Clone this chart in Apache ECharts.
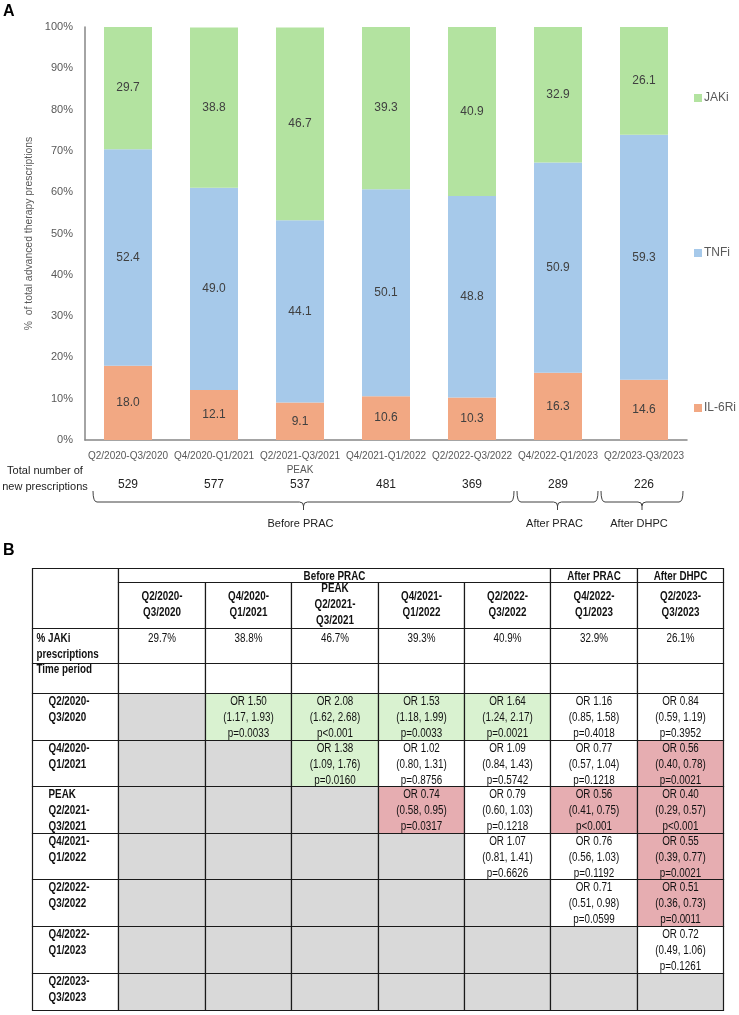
<!DOCTYPE html>
<html><head><meta charset="utf-8">
<script src="https://cdn.jsdelivr.net/npm/echarts@6/dist/echarts.min.js"></script>
<style>html,body{margin:0;padding:0;background:#fff}#c{width:739px;height:1015px}</style>
</head><body><div id="c"></div>
<script>
// ---------- DATA ----------
const categories = ['Q2/2020-Q3/2020','Q4/2020-Q1/2021','Q2/2021-Q3/2021\nPEAK','Q4/2021-Q1/2022','Q2/2022-Q3/2022','Q4/2022-Q1/2023','Q2/2023-Q3/2023'];
const il6ri = [18.0, 12.1, 9.1, 10.6, 10.3, 16.3, 14.6];
const tnfi  = [52.4, 49.0, 44.1, 50.1, 48.8, 50.9, 59.3];
const jaki  = [29.7, 38.8, 46.7, 39.3, 40.9, 32.9, 26.1];
const totals = [529, 577, 537, 481, 369, 289, 226];
const periodGroups = [
  {name: 'Before PRAC', from: 0, to: 4},
  {name: 'After PRAC', from: 5, to: 5},
  {name: 'After DHPC', from: 6, to: 6}
];
const tablePeriods = ['Q2/2020-\nQ3/2020','Q4/2020-\nQ1/2021','PEAK\nQ2/2021-\nQ3/2021','Q4/2021-\nQ1/2022','Q2/2022-\nQ3/2022','Q4/2022-\nQ1/2023','Q2/2023-\nQ3/2023'];
const orEst = [
  [null,1.50,2.08,1.53,1.64,1.16,0.84],
  [null,null,1.38,1.02,1.09,0.77,0.56],
  [null,null,null,0.74,0.79,0.56,0.40],
  [null,null,null,null,1.07,0.76,0.55],
  [null,null,null,null,null,0.71,0.51],
  [null,null,null,null,null,null,0.72],
  [null,null,null,null,null,null,null]
];
const ciLow = [
  [null,1.17,1.62,1.18,1.24,0.85,0.59],
  [null,null,1.09,0.80,0.84,0.57,0.40],
  [null,null,null,0.58,0.60,0.41,0.29],
  [null,null,null,null,0.81,0.56,0.39],
  [null,null,null,null,null,0.51,0.36],
  [null,null,null,null,null,null,0.49],
  [null,null,null,null,null,null,null]
];
const ciHigh = [
  [null,1.93,2.68,1.99,2.17,1.58,1.19],
  [null,null,1.76,1.31,1.43,1.04,0.78],
  [null,null,null,0.95,1.03,0.75,0.57],
  [null,null,null,null,1.41,1.03,0.77],
  [null,null,null,null,null,0.98,0.73],
  [null,null,null,null,null,null,1.06],
  [null,null,null,null,null,null,null]
];
const pVals = [
  [null,'0.0033','<0.001','0.0033','0.0021','0.4018','0.3952'],
  [null,null,'0.0160','0.8756','0.5742','0.1218','0.0021'],
  [null,null,null,'0.0317','0.1218','<0.001','<0.001'],
  [null,null,null,null,'0.6626','0.1192','0.0021'],
  [null,null,null,null,null,'0.0599','0.0011'],
  [null,null,null,null,null,null,'0.1261'],
  [null,null,null,null,null,null,null]
];

// ---------- LAYOUT / STYLE ----------
const REG = "'Liberation Sans',Arial,sans-serif";
const NARROW_SCALE = 0.82;
const C_GREEN = '#b3e3a0', C_BLUE = '#a6c9ea', C_ORANGE = '#f2a883';
const CELL_GREEN = '#d9f2d0', CELL_RED = '#e6adb1', CELL_GRAY = '#d9d9d9';
const rowEdges = [0,14,60,95,125,172,218,265,311,358,405,442];
const braceInsets = [[8,1],[2,3],[0,4]];

// ---------- TABLE CELLS ----------
const cells = [];
function addCell(c0, c1, r0, r1, text, o) {
  cells.push(Object.assign({c0, c1, r0: rowEdges[r0], r1: rowEdges[r1], text, fill: '#fff', bold: false, align: 'center', valign: 'top', pad: 0, indent: 4}, o || {}));
}
addCell(0, 1, 0, 2, '');
periodGroups.forEach(g => addCell(1 + g.from, 2 + g.to, 0, 1, g.name, {bold: true, valign: 'middle', pad: 1}));
tablePeriods.forEach((t, j) => addCell(1 + j, 2 + j, 1, 2, t, {bold: true, valign: 'middle', pad: -1}));
addCell(0, 1, 2, 3, '% JAKi\nprescriptions', {bold: true, align: 'left', pad: 2});
jaki.forEach((v, j) => addCell(1 + j, 2 + j, 2, 3, v.toFixed(1) + '%', {pad: 2}));
addCell(0, 1, 3, 4, 'Time period', {bold: true, align: 'left', pad: -2});
jaki.forEach((v, j) => addCell(1 + j, 2 + j, 3, 4, ''));
tablePeriods.forEach((t, i) => {
  addCell(0, 1, 4 + i, 5 + i, t, {bold: true, align: 'left', indent: 16});
  for (let j = 0; j < tablePeriods.length; j++) {
    if (orEst[i][j] == null) { addCell(1 + j, 2 + j, 4 + i, 5 + i, '', {fill: CELL_GRAY}); continue; }
    const p = pVals[i][j];
    const sig = p.charAt(0) === '<' || parseFloat(p) < 0.05;
    const fill = sig ? (orEst[i][j] > 1 ? CELL_GREEN : CELL_RED) : '#fff';
    const txt = 'OR ' + orEst[i][j].toFixed(2) + '\n(' + ciLow[i][j].toFixed(2) + ', ' + ciHigh[i][j].toFixed(2) + ')\n' + (p.charAt(0) === '<' ? 'p' + p : 'p=' + p);
    addCell(1 + j, 2 + j, 4 + i, 5 + i, txt, {fill});
  }
});

const chart = echarts.init(document.getElementById('c'), null, {renderer: 'canvas'});
const labelStyle = {show: true, position: 'inside', color: '#404040', fontSize: 12, fontFamily: REG, formatter: p => p.value.toFixed(1)};
const legendBase = {orient: 'vertical', left: 689, icon: 'rect', itemWidth: 8, itemHeight: 8, itemGap: 4,
  textStyle: {color: '#595959', fontSize: 12, fontFamily: REG, padding: [0, 0, 0, -3]}, selectedMode: false};

const option = {
  animation: false,
  textStyle: {fontFamily: REG},
  grid: [
    {left: 85, top: 27, width: 602, height: 413},
    {left: 32, top: 568, width: 691, height: 442}
  ],
  legend: [
    Object.assign({data: ['JAKi'], top: 87}, legendBase),
    Object.assign({data: ['TNFi'], top: 242}, legendBase),
    Object.assign({data: ['IL-6Ri'], top: 397}, legendBase)
  ],
  xAxis: [
    {type: 'category', gridIndex: 0, data: categories,
     axisLine: {lineStyle: {color: '#868686', width: 1.5}}, axisTick: {show: false},
     axisLabel: {interval: 0, color: '#595959', fontSize: 10, fontFamily: REG, margin: 9, lineHeight: 14}},
    {type: 'category', gridIndex: 0, data: totals.map(String), position: 'bottom', offset: 31,
     axisLine: {show: false}, axisTick: {show: false},
     axisLabel: {interval: 0, color: '#222', fontSize: 12, fontFamily: REG, margin: 8}},
    {type: 'value', gridIndex: 1, min: 0, max: 8, show: false}
  ],
  yAxis: [
    {type: 'value', gridIndex: 0, min: 0, max: 100, interval: 10,
     axisLine: {show: true, lineStyle: {color: '#868686', width: 1.5}}, axisTick: {show: false}, splitLine: {show: false},
     axisLabel: {formatter: '{value}%', color: '#595959', fontSize: 11, fontFamily: REG, margin: 12},
     name: '%  of total advanced therapy prescriptions', nameLocation: 'middle', nameGap: 47,
     nameTextStyle: {color: '#595959', fontSize: 10.4, fontFamily: REG}},
    {type: 'value', gridIndex: 1, min: 0, max: 442, inverse: true, show: false}
  ],
  series: [
    {name: 'IL-6Ri', type: 'bar', stack: 'a', xAxisIndex: 0, yAxisIndex: 0, data: il6ri, barWidth: 48, itemStyle: {color: C_ORANGE}, label: labelStyle},
    {name: 'TNFi', type: 'bar', stack: 'a', xAxisIndex: 0, yAxisIndex: 0, data: tnfi, barWidth: 48, itemStyle: {color: C_BLUE}, label: labelStyle},
    {name: 'JAKi', type: 'bar', stack: 'a', xAxisIndex: 0, yAxisIndex: 0, data: jaki, barWidth: 48, itemStyle: {color: C_GREEN}, label: labelStyle},
    {type: 'custom', xAxisIndex: 2, yAxisIndex: 1, silent: true, clip: false,
     data: cells.map(c => [c.c0, c.r0]),
     renderItem: function (params, api) {
       const c = cells[params.dataIndex];
       const p0 = api.coord([c.c0, c.r0]);
       const p1 = api.coord([c.c1, c.r1]);
       const x = Math.round(p0[0]) + 0.5, y = Math.round(p0[1]) + 0.5;
       const w = Math.round(p1[0]) - Math.round(p0[0]), h = Math.round(p1[1]) - Math.round(p0[1]);
       const children = [{type: 'rect', shape: {x, y, width: w, height: h},
         style: {fill: c.fill, stroke: '#1a1a1a', lineWidth: 1.2}}];
       if (c.text) {
         const tx = c.align === 'left' ? x + c.indent : x + w / 2;
         const ty = c.valign === 'middle' ? y + h / 2 + c.pad : y + c.pad;
         children.push({type: 'text', x: tx, y: ty, scaleX: NARROW_SCALE,
           style: {text: c.text, x: 0, y: 0, align: c.align,
           verticalAlign: c.valign, fontSize: 12, fontFamily: REG, fontWeight: c.bold ? 'bold' : 'normal',
           lineHeight: 16, fill: '#111'}});
       }
       return {type: 'group', children};
     }}
  ]
};
chart.setOption(option);

// ---------- annotations positioned from the axis scale ----------
const px = i => chart.convertToPixel({xAxisIndex: 0}, i);
const bw = px(1) - px(0);
const yBase = chart.convertToPixel({yAxisIndex: 0}, 0);
const yTop = yBase + 51, yMid = yBase + 62, yTip = yBase + 70;
const LS = {stroke: '#404040', lineWidth: 1, fill: null};
const graphics = [
  {type: 'text', x: 3, y: 4, style: {text: 'A', fontSize: 16, fontWeight: 'bold', fontFamily: REG, fill: '#000'}},
  {type: 'text', x: 3, y: 543, style: {text: 'B', fontSize: 16, fontWeight: 'bold', fontFamily: REG, fill: '#000'}},
  {type: 'text', x: 45, y: yBase + 23, style: {text: 'Total number of\nnew prescriptions', align: 'center', verticalAlign: 'top',
    fontSize: 11, lineHeight: 16, fontFamily: REG, fill: '#222'}}
];
periodGroups.forEach((g, k) => {
  const xs = px(g.from) - bw / 2 + braceInsets[k][0];
  const xe = px(g.to) + bw / 2 - braceInsets[k][1];
  const xc = (xs + xe) / 2, r = 4;
  graphics.push(
    {type: 'bezierCurve', shape: {x1: xs, y1: yTop, x2: xs + r, y2: yMid, cpx1: xs, cpy1: yMid}, style: LS},
    {type: 'line', shape: {x1: xs + r, y1: yMid, x2: xc - r, y2: yMid}, style: LS},
    {type: 'bezierCurve', shape: {x1: xc - r, y1: yMid, x2: xc, y2: yMid + 4, cpx1: xc, cpy1: yMid}, style: LS},
    {type: 'bezierCurve', shape: {x1: xc + r, y1: yMid, x2: xc, y2: yMid + 4, cpx1: xc, cpy1: yMid}, style: LS},
    {type: 'line', shape: {x1: xc, y1: yMid + 4, x2: xc, y2: yTip}, style: LS},
    {type: 'line', shape: {x1: xc + r, y1: yMid, x2: xe - r, y2: yMid}, style: LS},
    {type: 'bezierCurve', shape: {x1: xe, y1: yTop, x2: xe - r, y2: yMid, cpx1: xe, cpy1: yMid}, style: LS},
    {type: 'text', x: xc - 3, y: yBase + 78, style: {text: g.name, align: 'center', verticalAlign: 'top',
      fontSize: 11, fontFamily: REG, fill: '#222'}}
  );
});
chart.setOption({graphic: graphics});
</script>
</body></html>
